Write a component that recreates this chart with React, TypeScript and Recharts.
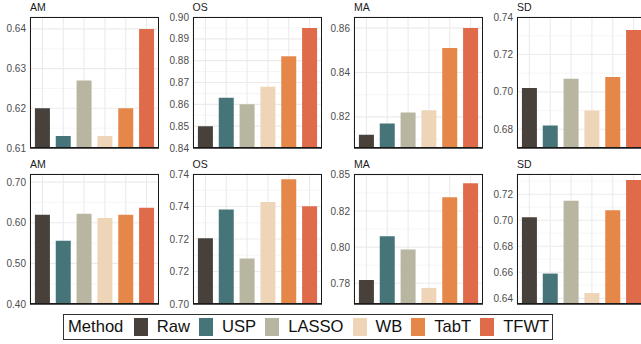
import React from 'react';
import { BarChart, Bar, XAxis, YAxis, CartesianGrid, Cell } from 'recharts';

// methods and their fill colours
const methods = ['Raw', 'USP', 'LASSO', 'WB', 'TabT', 'TFWT'];
const methodColors = ['#47403b', '#467579', '#b8b6a0', '#eed5b7', '#e6874a', '#df6b4a'];

const panelTitles = ['AM', 'OS', 'MA', 'SD'];

// top row values
const topAM = [0.620, 0.613, 0.627, 0.613, 0.620, 0.640];
const topOS = [0.850, 0.863, 0.860, 0.868, 0.882, 0.895];
const topMA = [0.812, 0.817, 0.822, 0.823, 0.851, 0.860];
const topSD = [0.702, 0.682, 0.707, 0.690, 0.708, 0.733];

// bottom row values
const botAM = [0.620, 0.556, 0.622, 0.612, 0.620, 0.637];
const botOS = [0.7202, 0.7291, 0.7140, 0.7314, 0.7384, 0.7301];
const botMA = [0.7818, 0.8060, 0.7987, 0.7774, 0.8276, 0.8354];
const botSD = [0.7023, 0.6590, 0.7150, 0.6440, 0.7077, 0.7310];

// y axis ticks and their printed labels
const topAMTicks = [0.61, 0.62, 0.63, 0.64];
const topAMLabels = ['0.61', '0.62', '0.63', '0.64'];
const topOSTicks = [0.84, 0.85, 0.86, 0.87, 0.88, 0.89, 0.90];
const topOSLabels = ['0.84', '0.85', '0.86', '0.87', '0.88', '0.89', '0.90'];
const topMATicks = [0.82, 0.84, 0.86];
const topMALabels = ['0.82', '0.84', '0.86'];
const topSDTicks = [0.68, 0.70, 0.72, 0.74];
const topSDLabels = ['0.68', '0.70', '0.72', '0.74'];

const botAMTicks = [0.4, 0.5, 0.6, 0.7];
const botAMLabels = ['0.40', '0.50', '0.60', '0.70'];
const botOSTicks = [0.70, 0.71, 0.72, 0.73, 0.74];
const botOSLabels = ['0.70', '0.72', '0.72', '0.74', '0.74'];
const botMATicks = [0.78, 0.80, 0.82, 0.84];
const botMALabels = ['0.78', '0.80', '0.82', '0.85'];
const botSDTicks = [0.64, 0.66, 0.68, 0.70, 0.72];
const botSDLabels = ['0.64', '0.66', '0.68', '0.70', '0.72'];

const FONT = "'Liberation Sans', Arial, sans-serif";
const AXIS_W = 34;
const PLOT_W = 129;
const PAD = 8; // room so edge tick labels are not clipped

const midpoints = (ticks, domain) => {
  const step = ticks.length > 1 ? ticks[1] - ticks[0] : 0.01;
  const out = [];
  for (let v = ticks[0] - step / 2; v < domain[1]; v += step) {
    if (v > domain[0]) out.push(+v.toFixed(5));
  }
  return out;
};

const EmptyTick = () => <g />;

const Panel = ({ title, values, domain, ticks, labels, left, top, height }) => {
  const data = methods.map((m, i) => ({ method: m, value: values[i] }));
  const minor = midpoints(ticks, domain);
  return (
    <>
      <div
        style={{
          position: 'absolute', left, top: top - 15.4, fontSize: 10.5, lineHeight: 1,
          color: '#1a1a1a', fontFamily: FONT, whiteSpace: 'nowrap',
        }}
      >
        {title}
      </div>
      <div style={{ position: 'absolute', left: left - AXIS_W, top: top - PAD }}>
        <BarChart
          width={AXIS_W + PLOT_W}
          height={height + 1 + PAD * 2}
          data={data}
          margin={{ top: PAD, right: 0, bottom: PAD, left: 0 }}
          barCategoryGap="14%"
        >
          <CartesianGrid vertical={false} horizontalValues={minor} stroke="#f2f2f2" strokeWidth={0.7} />
          <CartesianGrid stroke="#ebebeb" strokeWidth={1.1} />
          <XAxis
            dataKey="method"
            tick={<EmptyTick />}
            tickLine={false}
            height={1}
            interval={0}
            padding={{ left: 2, right: 2 }}
            axisLine={{ stroke: '#555', strokeWidth: 2 }}
          />
          <YAxis
            type="number"
            width={AXIS_W}
            domain={domain}
            allowDataOverflow
            ticks={ticks}
            interval={0}
            tickSize={0}
            tickMargin={4}
            axisLine={false}
            tickLine={false}
            tick={{ fontSize: 10, fill: '#4d4d4d', fontFamily: FONT }}
            tickFormatter={(v) => labels[ticks.indexOf(v)] ?? String(v)}
          />
          <Bar dataKey="value" isAnimationActive={false}>
            {data.map((d, i) => (
              <Cell key={d.method} fill={methodColors[i]} />
            ))}
          </Bar>
        </BarChart>
      </div>
      <div
        style={{
          position: 'absolute', left, top, width: PLOT_W, height,
          border: '1px solid #1a1a1a', boxSizing: 'border-box', pointerEvents: 'none',
        }}
      />
    </>
  );
};

const Legend = () => (
  <div
    style={{
      position: 'absolute', left: 63, top: 314, width: 490, height: 26,
      border: '1.5px solid #333', boxSizing: 'border-box', display: 'flex',
      alignItems: 'center', paddingLeft: 4, fontFamily: FONT, fontSize: 16.6, color: '#111',
    }}
  >
    <span style={{ marginRight: 10.5 }}>Method</span>
    {methods.map((m, i) => (
      <span key={m} style={{ display: 'flex', alignItems: 'center', marginRight: 9 }}>
        <span style={{ width: 14, height: 18, background: methodColors[i], marginRight: 9 }} />
        <span>{m}</span>
      </span>
    ))}
  </div>
);

const App = () => {
  const lefts = [30, 192.5, 354, 517];
  const topRow = [
    { values: topAM, domain: [0.61, 0.643], ticks: topAMTicks, labels: topAMLabels },
    { values: topOS, domain: [0.84, 0.90], ticks: topOSTicks, labels: topOSLabels },
    { values: topMA, domain: [0.806, 0.865], ticks: topMATicks, labels: topMALabels },
    { values: topSD, domain: [0.670, 0.74], ticks: topSDTicks, labels: topSDLabels },
  ];
  const botRow = [
    { values: botAM, domain: [0.40, 0.72], ticks: botAMTicks, labels: botAMLabels },
    { values: botOS, domain: [0.70, 0.74], ticks: botOSTicks, labels: botOSLabels },
    { values: botMA, domain: [0.7685, 0.8405], ticks: botMATicks, labels: botMALabels },
    { values: botSD, domain: [0.6356, 0.7356], ticks: botSDTicks, labels: botSDLabels },
  ];

  return (
    <div
      style={{
        position: 'absolute', left: 0, top: 0, width: 641, height: 344,
        overflow: 'hidden', background: '#fff', fontFamily: FONT,
      }}
    >
      {topRow.map((p, i) => (
        <Panel key={`t${i}`} title={panelTitles[i]} left={lefts[i]} top={17} height={131} {...p} />
      ))}
      {botRow.map((p, i) => (
        <Panel key={`b${i}`} title={panelTitles[i]} left={lefts[i]} top={174} height={130} {...p} />
      ))}
      <Legend />
    </div>
  );
};

export default App;
